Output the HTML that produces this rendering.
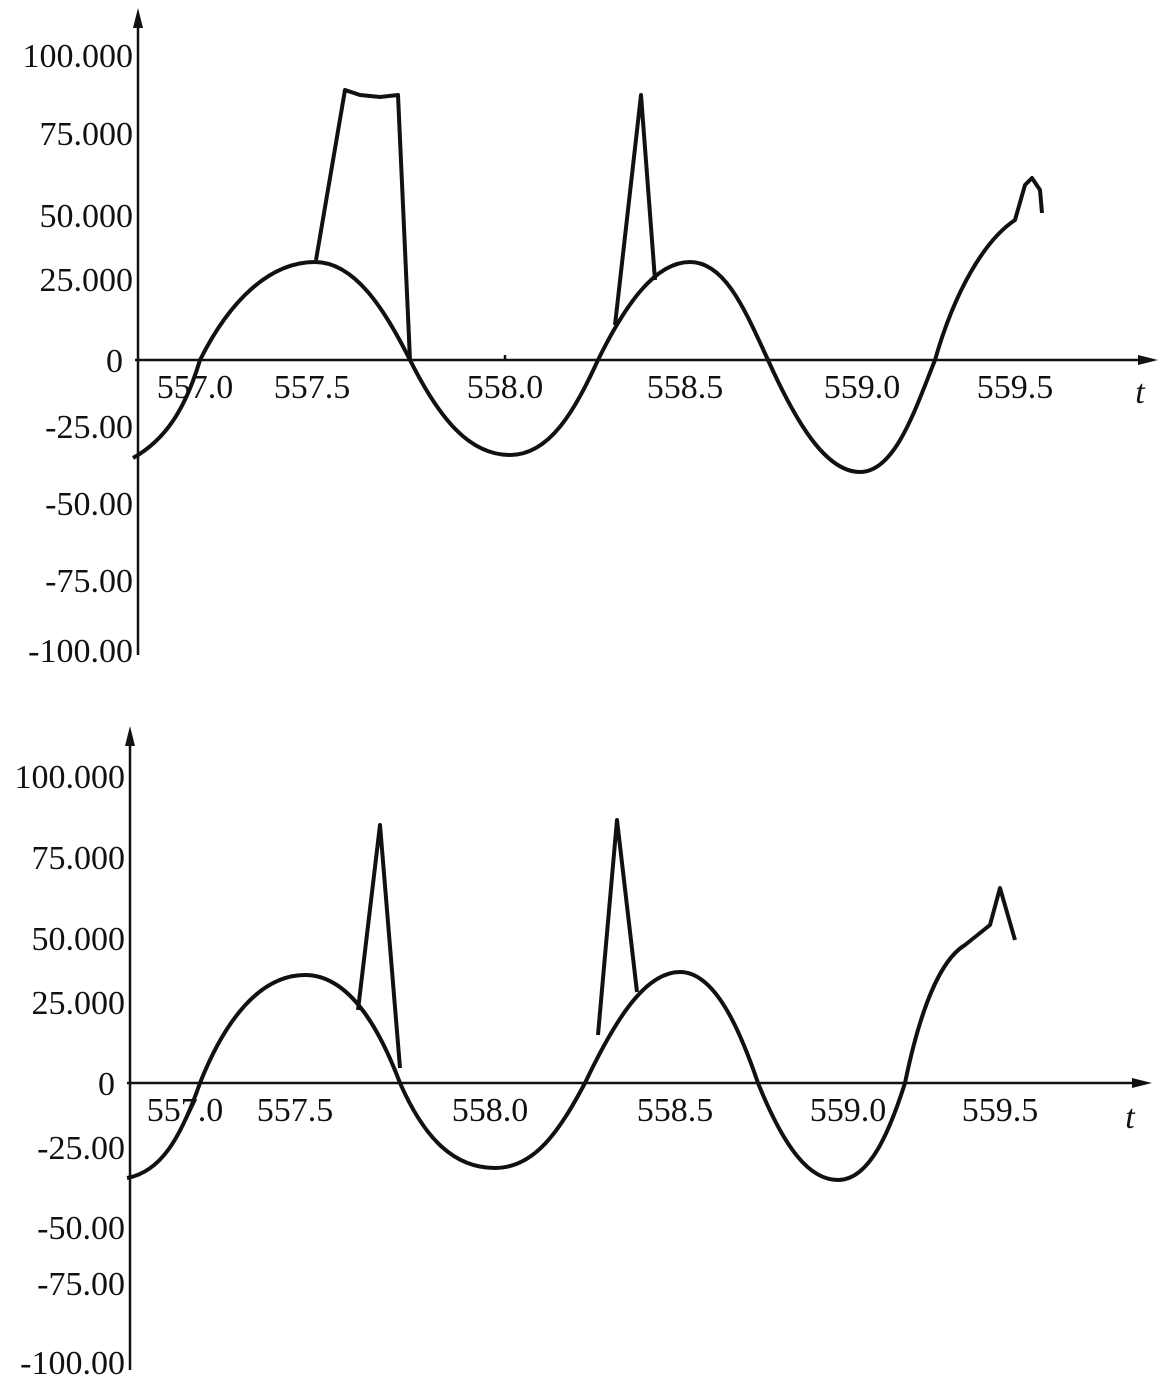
<!DOCTYPE html>
<html><head><style>
body{margin:0;background:#fff}
svg text{font-family:"Liberation Serif",serif;font-size:34px;fill:#111}
</style></head><body>
<svg width="1170" height="1392" viewBox="0 0 1170 1392" xmlns="http://www.w3.org/2000/svg">
<g stroke="#111" fill="none" stroke-width="2.5">
<line x1="138" y1="14" x2="138" y2="655"/>
<line x1="135" y1="360" x2="1150" y2="360"/>
<line x1="505" y1="355" x2="505" y2="360"/>
<line x1="130" y1="732" x2="130" y2="1370"/>
<line x1="127" y1="1083" x2="1145" y2="1083"/>
</g>
<g fill="#111">
<polygon points="138,8 133,28 143,28"/>
<polygon points="1158,360 1138,355 1138,365"/>
<polygon points="130,726 125,746 135,746"/>
<polygon points="1152,1083 1132,1078 1132,1088"/>
</g>
<g text-anchor="end">
<text x="133" y="67">100.000</text>
<text x="133" y="145">75.000</text>
<text x="133" y="227">50.000</text>
<text x="133" y="291">25.000</text>
<text x="123" y="372">0</text>
<text x="133" y="438">-25.00</text>
<text x="133" y="515">-50.00</text>
<text x="133" y="592">-75.00</text>
<text x="133" y="662">-100.00</text>
<text x="125" y="788">100.000</text>
<text x="125" y="869">75.000</text>
<text x="125" y="950">50.000</text>
<text x="125" y="1014">25.000</text>
<text x="115" y="1095">0</text>
<text x="125" y="1159">-25.00</text>
<text x="125" y="1239">-50.00</text>
<text x="125" y="1295">-75.00</text>
<text x="125" y="1374">-100.00</text>
</g>
<g text-anchor="middle">
<text x="195" y="398">557.0</text>
<text x="312" y="398">557.5</text>
<text x="505" y="398">558.0</text>
<text x="685" y="398">558.5</text>
<text x="862" y="398">559.0</text>
<text x="1015" y="398">559.5</text>
<text x="1140" y="403" font-style="italic">t</text>
<text x="185" y="1121">557.0</text>
<text x="295" y="1121">557.5</text>
<text x="490" y="1121">558.0</text>
<text x="675" y="1121">558.5</text>
<text x="848" y="1121">559.0</text>
<text x="1000" y="1121">559.5</text>
<text x="1130" y="1128" font-style="italic">t</text>
</g>
<g stroke="#111" fill="none" stroke-width="4" stroke-linejoin="round">
<path d="M133,458 C165,440 185,410 200,360 C230,300 270,262 315,262 C355,262 385,310 410,360 C440,420 470,455 510,455 C550,455 575,410 598,360 C625,305 655,262 690,262 C725,262 745,310 768,360 C795,420 825,472 860,472 C895,472 915,410 935,360 C955,290 985,240 1015,220 L1025,185 L1032,178 L1040,190 L1042,213"/>
<path d="M316,260 L345,90 L360,95 L380,97 L398,95 L410,360"/>
<path d="M615,325 L641,95 L655,280"/>
<path d="M127,1178 C160,1172 180,1140 200,1083 C225,1020 260,975 305,975 C350,975 380,1030 400,1083 C425,1140 455,1168 495,1168 C535,1168 560,1130 585,1083 C615,1020 645,972 680,972 C715,972 740,1030 758,1083 C785,1150 810,1180 838,1180 C870,1180 890,1130 905,1083 C920,1010 940,960 965,945 L990,925 L1000,888 L1015,940"/>
<path d="M358,1010 L380,825 L400,1068"/>
<path d="M598,1035 L617,820 L637,992"/>
</g>
</svg>
</body></html>
